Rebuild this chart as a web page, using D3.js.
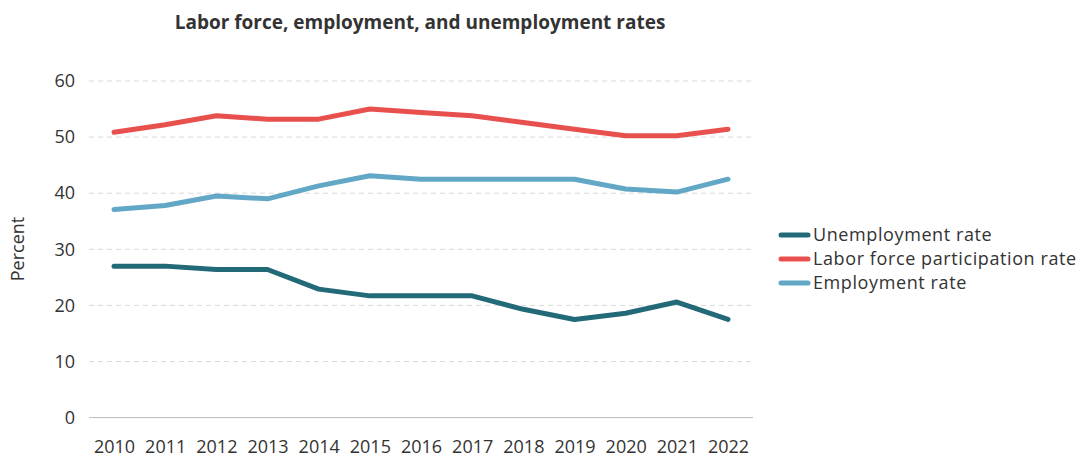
<!DOCTYPE html>
<html>
<head>
<meta charset="utf-8">
<script src="https://cdn.jsdelivr.net/npm/d3@7"></script>
<style>
  body { margin: 0; background: #fff; }
  svg { display: block; font-family: "Open Sans", sans-serif; }
</style>
</head>
<body>
<div id="chart"></div>
<script>
// data
const years = [2010, 2011, 2012, 2013, 2014, 2015, 2016, 2017, 2018, 2019, 2020, 2021, 2022];
const unemploymentRate = [27.0, 27.0, 26.4, 26.4, 22.9, 21.7, 21.7, 21.7, 19.3, 17.5, 18.6, 20.6, 17.5];
const participationRate = [50.85, 52.2, 53.8, 53.2, 53.2, 55.0, 54.4, 53.8, 52.6, 51.4, 50.25, 50.25, 51.4];
const employmentRate = [37.1, 37.8, 39.5, 39.0, 41.3, 43.1, 42.5, 42.5, 42.5, 42.5, 40.75, 40.2, 42.5];
const yTicks = [0, 10, 20, 30, 40, 50, 60];

const series = [
  { name: "Unemployment rate", values: unemploymentRate, color: "#236a79" },
  { name: "Labor force participation rate", values: participationRate, color: "#e8504e" },
  { name: "Employment rate", values: employmentRate, color: "#62a8c6" },
];

const width = 1084;
const height = 459;
const marginLeft = 89;
const plotRight = 753;
const font = "'Open Sans', sans-serif";

const x = d3.scalePoint()
  .domain(years)
  .range([114, 728]);

const y = d3.scaleLinear()
  .domain([0, 60])
  .range([417.6, 81]);

const svg = d3.select("#chart").append("svg")
  .attr("width", width)
  .attr("height", height);

// title
svg.append("text")
  .attr("x", 420)
  .attr("y", 29)
  .attr("text-anchor", "middle")
  .attr("font-size", 19)
  .attr("font-weight", 700)
  .attr("fill", "#333")
  .text("Labor force, employment, and unemployment rates");

// dashed gridlines
svg.append("g")
  .selectAll("line")
  .data(yTicks.filter((d) => d > 0))
  .join("line")
  .attr("x1", marginLeft)
  .attr("x2", plotRight)
  .attr("y1", (d) => y(d))
  .attr("y2", (d) => y(d))
  .attr("stroke", "#d9d9d9")
  .attr("stroke-dasharray", "5,4");

// baseline
svg.append("line")
  .attr("x1", marginLeft)
  .attr("x2", plotRight)
  .attr("y1", y(0))
  .attr("y2", y(0))
  .attr("stroke", "#bbb")
  .attr("stroke-width", 1);

// y axis labels
const yAxis = svg.append("g")
  .attr("transform", `translate(75,0)`)
  .call(d3.axisLeft(y).tickValues(yTicks).tickSize(0).tickPadding(0));
yAxis.select(".domain").remove();
yAxis.selectAll("text")
  .attr("font-size", 18)
  .attr("fill", "#333")
  .attr("font-family", font);

// x axis labels
const xAxis = svg.append("g")
  .attr("transform", `translate(0,${y(0)})`)
  .call(d3.axisBottom(x).tickSize(0).tickPadding(23));
xAxis.select(".domain").remove();
xAxis.selectAll("text")
  .attr("font-size", 18)
  .attr("fill", "#333")
  .attr("font-family", font);

// y axis title
svg.append("text")
  .attr("transform", "translate(24,249) rotate(-90)")
  .attr("text-anchor", "middle")
  .attr("font-size", 18)
  .attr("fill", "#333")
  .text("Percent");

// lines
const line = d3.line()
  .x((d, i) => x(years[i]))
  .y((d) => y(d));

svg.append("g")
  .attr("fill", "none")
  .attr("stroke-width", 5)
  .attr("stroke-linejoin", "round")
  .attr("stroke-linecap", "round")
  .selectAll("path")
  .data(series)
  .join("path")
  .attr("stroke", (d) => d.color)
  .attr("d", (d) => line(d.values));

// legend
const legend = svg.append("g")
  .attr("transform", "translate(781,235)")
  .selectAll("g")
  .data(series)
  .join("g")
  .attr("transform", (d, i) => `translate(0,${i * 24})`);

legend.append("line")
  .attr("x1", 0)
  .attr("x2", 27)
  .attr("stroke", (d) => d.color)
  .attr("stroke-width", 5)
  .attr("stroke-linecap", "round");

legend.append("text")
  .attr("x", 32)
  .attr("dy", "0.35em")
  .attr("font-size", 18)
  .attr("letter-spacing", 0.6)
  .attr("fill", "#333")
  .text((d) => d.name);
</script>
</body>
</html>
